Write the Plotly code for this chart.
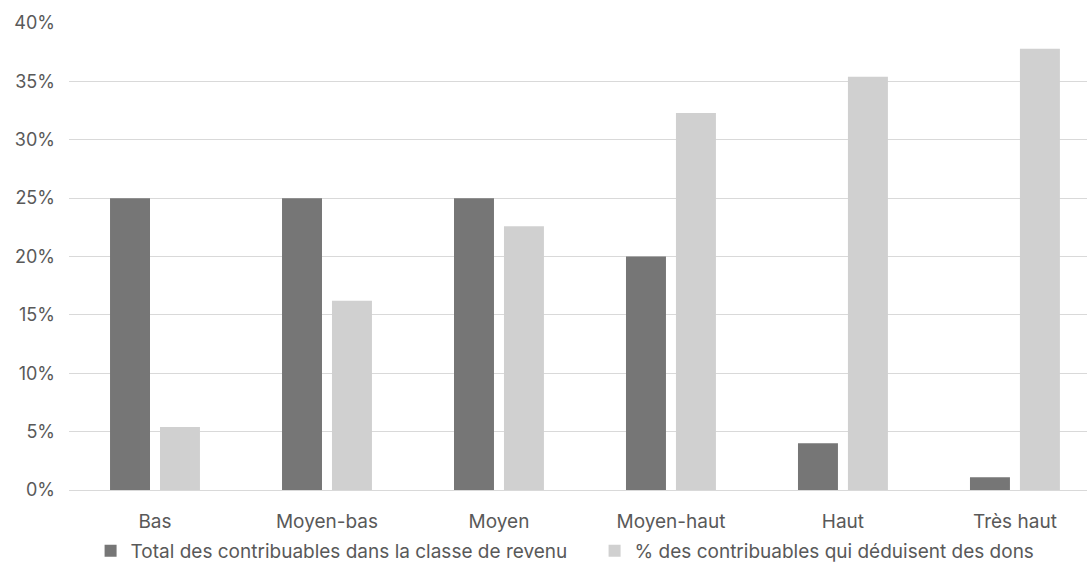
import plotly.graph_objects as go

categories = ["Bas", "Moyen-bas", "Moyen", "Moyen-haut", "Haut", "Très haut"]
total_contribuables = [0.25, 0.25, 0.25, 0.20, 0.04, 0.011]
pct_deduisent_dons = [0.054, 0.162, 0.226, 0.323, 0.354, 0.378]
series_names = ["Total des contribuables dans la classe de revenu",
                "% des contribuables qui déduisent des dons"]
tick_vals = [0, 0.05, 0.10, 0.15, 0.20, 0.25, 0.30, 0.35, 0.40]
tick_text = ["0%", "5%", "10%", "15%", "20%", "25%", "30%", "35%", "40%"]

font_family = "Inter, Noto Sans, sans-serif"
text_color = "#595959"

fig = go.Figure()
fig.add_trace(go.Bar(x=categories, y=total_contribuables, name=series_names[0],
                     marker=dict(color="#767676", line=dict(width=0))))
fig.add_trace(go.Bar(x=categories, y=pct_deduisent_dons, name=series_names[1],
                     marker=dict(color="#D0D0D0", line=dict(width=0))))

fig.update_layout(
    width=1087, height=565,
    margin=dict(l=69, r=0, t=23, b=75),
    paper_bgcolor="white", plot_bgcolor="white",
    barmode="group", bargap=0.419, bargroupgap=0.2,
    font=dict(family=font_family, size=18, color=text_color),
    showlegend=True,
    legend=dict(orientation="h", x=0.547, xanchor="center", xref="container",
                y=0.025, yanchor="middle", yref="container",
                bgcolor="rgba(0,0,0,0)",
                font=dict(size=19, color=text_color), itemwidth=30,
                traceorder="normal", entrywidth=459, entrywidthmode="pixels",
                tracegroupgap=0),
    xaxis=dict(showgrid=False, showline=True, linecolor="#D9D9D9", linewidth=1,
               ticks="", automargin=False, ticklabelstandoff=14,
               range=[-0.5, 5.419],
               tickfont=dict(size=19, color=text_color)),
    yaxis=dict(range=[0, 0.40], tickvals=tick_vals, ticktext=tick_text,
               showgrid=True, gridcolor="#D9D9D9", gridwidth=1, zeroline=False,
               showline=False, ticks="", ticklabelstandoff=13, automargin=False,
               tickfont=dict(size=18, color=text_color)),
)

fig.write_html("out.html", config={"displayModeBar": False},
               post_script="document.body.style.margin='0';document.body.style.padding='0';")
